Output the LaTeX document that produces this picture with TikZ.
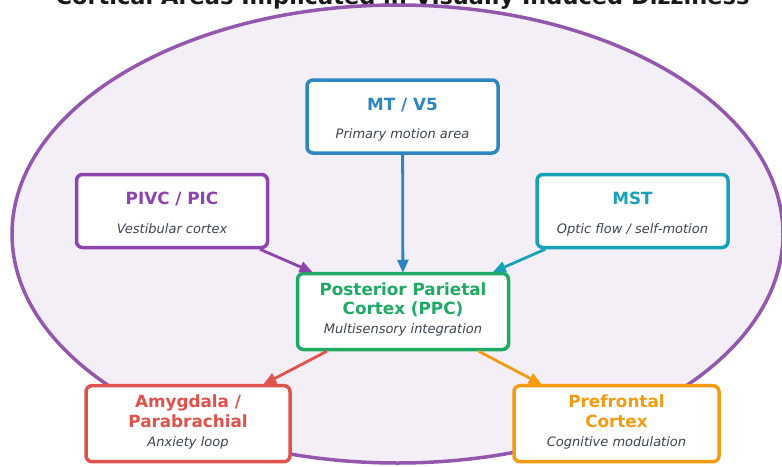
\documentclass[tikz,border=0pt]{standalone}
\usepackage{fontspec}
\setmainfont{DejaVu Sans}
\usetikzlibrary{arrows.meta,calc}
\definecolor{mtblue}{HTML}{2E86C1}
\definecolor{pivcpurple}{HTML}{8E44AD}
\definecolor{mstteal}{HTML}{17A2B8}
\definecolor{ppcgreen}{HTML}{1FAA64}
\definecolor{amyred}{HTML}{E0524C}
\definecolor{pfcorange}{HTML}{F39C12}
\definecolor{ellstroke}{HTML}{9457AE}
\definecolor{ellfill}{HTML}{F4EEF6}
\definecolor{subgray}{HTML}{3C4452}
\definecolor{titleblack}{HTML}{1A1A1A}
\begin{document}
\begin{tikzpicture}[x=1pt,y=-1pt,
  box/.style={draw=#1, line width=3.5pt, rounded corners=6pt, fill=white, inner sep=0pt},
  ttl/.style={anchor=base, text=#1, font=\fontsize{16.8}{19.5}\selectfont\bfseries},
  subt/.style={anchor=base, text=subgray, font=\fontsize{13}{15}\selectfont\itshape},
  conn/.style={draw=#1, line width=2.8pt, -{Triangle[length=13pt,width=11pt]}, shorten >=-1pt}]
\useasboundingbox (0,0) rectangle (782,466);
\fill[white] (0,0) rectangle (782,466);
% title (cut off at the top edge, as in the reference)
\node[anchor=base, text=titleblack, font=\fontsize{22.5}{26}\selectfont\bfseries] (title) at (402.5,4.5) {Cortical Areas Implicated in Visually Induced Dizziness};
% ellipse
\draw[draw=ellstroke, fill=ellfill, line width=3.5pt] (397.5,234) ellipse [x radius=385.5, y radius=229];
% boxes
\node[box=mtblue, minimum width=191pt, minimum height=73pt] (mt) at (402.5,116.5) {};
\node[box=pivcpurple, minimum width=191pt, minimum height=73pt] (pivc) at (172,211) {};
\node[box=mstteal, minimum width=191pt, minimum height=73pt] (mst) at (632.5,211) {};
\node[box=ppcgreen, minimum width=211pt, minimum height=76pt] (ppc) at (403,311.5) {};
\node[box=amyred, minimum width=204pt, minimum height=76pt] (amy) at (188,423.7) {};
\node[box=pfcorange, minimum width=205pt, minimum height=76pt] (pfc) at (616.5,423.7) {};
% texts
\node[ttl=mtblue] (mtt) at ($(mt)+(0,-6)$) {MT / V5};
\node[subt] (mts) at ($(mt)+(0,22.4)$) {Primary motion area};
\node[ttl=pivcpurple] (pivct) at ($(pivc)+(0,-6.5)$) {PIVC / PIC};
\node[subt] (pivcs) at ($(pivc)+(0,22.4)$) {Vestibular cortex};
\node[ttl=mstteal] (mstt) at ($(mst)+(0,-6.5)$) {MST};
\node[subt] (msts) at ($(mst)+(0,22.4)$) {Optic flow / self-motion};
\node[ttl=ppcgreen] (ppct1) at ($(ppc)+(0,-16.3)$) {Posterior Parietal};
\node[ttl=ppcgreen] (ppct2) at ($(ppc)+(0,3)$) {Cortex (PPC)};
\node[subt] (ppcs) at ($(ppc)+(0,22)$) {Multisensory integration};
\node[ttl=amyred] (amyt1) at ($(amy)+(0,-16)$) {Amygdala /};
\node[ttl=amyred] (amyt2) at ($(amy)+(0,3.5)$) {Parabrachial};
\node[subt] (amys) at ($(amy)+(0,22.3)$) {Anxiety loop};
\node[ttl=pfcorange] (pfct1) at ($(pfc)+(0,-16)$) {Prefrontal};
\node[ttl=pfcorange] (pfct2) at ($(pfc)+(0,3.5)$) {Cortex};
\node[subt] (pfcs) at ($(pfc)+(0,22.3)$) {Cognitive modulation};
% connectors
\draw[conn=mtblue] (mt) -- (ppc);
\draw[conn=pivcpurple] (pivc) -- (ppc);
\draw[conn=mstteal] (mst) -- (ppc);
\draw[conn=amyred] (ppc) -- (amy);
\draw[conn=pfcorange] (ppc) -- (pfc);
\end{tikzpicture}
\end{document}
